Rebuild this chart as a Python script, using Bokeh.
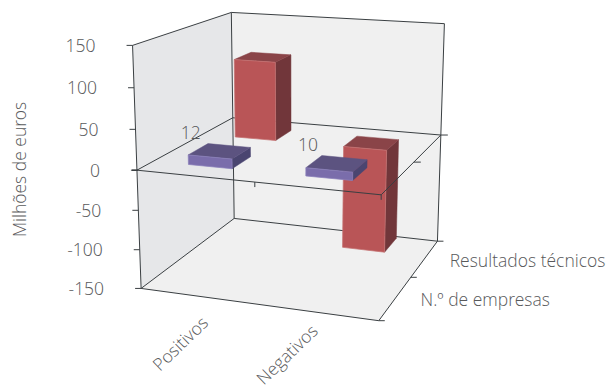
import numpy as np
from bokeh.core.properties import value
from bokeh.embed import file_html
from bokeh.plotting import figure
from bokeh.resources import INLINE

categories = ["Positivos", "Negativos"]
series_names = ["N.º de empresas", "Resultados técnicos"]
empresas = [12, 10]
resultados = [104, -137]
y_ticks = [-150, -100, -50, 0, 50, 100, 150]
y_title = "Milhões de euros"

# Camera calibration: known box corners (x, value, z) and where they land on the page.
Y_MIN, Y_MAX = -150, 150
calibration = [
    ((0, Y_MAX, 0), (133, 44)), ((0, Y_MIN, 0), (141, 288)),
    ((0, Y_MAX, 2), (230, 12)), ((0, Y_MIN, 2), (234, 218)),
    ((2, Y_MAX, 2), (444.5, 24)), ((2, Y_MIN, 2), (437, 240)),
    ((2, Y_MIN, 0), (378, 321)),
    ((0, 0, 0), (136, 170)), ((2, 0, 0), (380, 194)),
    ((2, 0, 2), (440.5, 134)), ((0, 0, 2), (232, 117.5)),
]
rows = []
rhs = []
for (X, Y, Z), (u, v) in calibration:
    rows.append([X, Y, Z, 1, 0, 0, 0, 0, -u * X, -u * Y, -u * Z])
    rhs.append(u)
    rows.append([0, 0, 0, 0, X, Y, Z, 1, -v * X, -v * Y, -v * Z])
    rhs.append(v)
# Columns are rescaled through the least squares for conditioning.
A = np.array(rows, float)
scale = np.abs(A).max(axis=0)
sol = np.linalg.lstsq(A / scale, np.array(rhs, float), rcond=None)[0] / scale
P = np.array([sol[:4], sol[4:8], [*sol[8:], 1.0]])


def proj(X, Y, Z):
    s = P @ np.array([X, Y, Z, 1.0])
    return s[0] / s[2], s[1] / s[2]


def poly(points):
    xy = [proj(*pt) for pt in points]
    return [a for a, _ in xy], [b for _, b in xy]


p = figure(width=609, height=392, x_range=(0, 609), y_range=(392, 0),
           x_axis_type=None, y_axis_type=None, toolbar_location=None,
           output_backend="svg", min_border=0, outline_line_color=None,
           background_fill_color="white", border_fill_color="white")

INK = "#3a3f42"
TEXT = "#58595b"
FONT = value("Open Sans Light")
FS = "17.5px"


def seg(a, b, width=1.0, color=INK):
    xs, ys = poly([a, b])
    p.line(xs, ys, line_color=color, line_width=width)


# Walls and floor of the box
p.patch(*poly([(0, Y_MIN, 0), (0, Y_MAX, 0), (0, Y_MAX, 2), (0, Y_MIN, 2)]),
        fill_color="#e6e7e9", line_color=None)
p.patch(*poly([(0, Y_MIN, 2), (0, Y_MAX, 2), (2, Y_MAX, 2), (2, Y_MIN, 2)]),
        fill_color="#f0f0f0", line_color=None)
p.patch(*poly([(0, Y_MIN, 0), (2, Y_MIN, 0), (2, Y_MIN, 2), (0, Y_MIN, 2)]),
        fill_color="#f0f0f0", line_color=None)

# Box frame behind the bars
for a, b in [((0, Y_MIN, 0), (0, Y_MAX, 0)), ((0, Y_MAX, 0), (0, Y_MAX, 2)),
             ((0, Y_MAX, 2), (2, Y_MAX, 2)), ((0, Y_MAX, 2), (0, Y_MIN, 2)),
             ((2, Y_MAX, 2), (2, Y_MIN, 2)), ((0, Y_MIN, 2), (2, Y_MIN, 2)),
             ((0, Y_MIN, 0), (0, Y_MIN, 2)), ((0, Y_MIN, 0), (2, Y_MIN, 0)),
             ((2, Y_MIN, 0), (2, Y_MIN, 2)), ((0, 0, 2), (2, 0, 2)),
             ((0, 0, 0), (0, 0, 2))]:
    seg(a, b)

# Axis ticks
for t in y_ticks:
    x0, y0 = proj(0, t, 0)
    p.line([x0 - 6, x0], [y0, y0], line_color=INK, line_width=1)
for Z in (0, 1, 2):
    x0, y0 = proj(2, Y_MIN, Z)
    p.line([x0, x0 + 6], [y0, y0], line_color=INK, line_width=1)

GAP_X, GAP_Z = 0.31, 0.30
# front, side, top, and the lighter rim round each face
RED = ("#b95557", "#71363a", "#8a4448", "#c57373")
BLUE = ("#7a6dab", "#4a4570", "#5c5380", "#8b80bb")


def bar(i, s, val, colors):
    x0, x1 = i + GAP_X, i + 1 - GAP_X
    z0, z1 = s + GAP_Z, s + 1 - GAP_Z
    lo, hi = min(0, val), max(0, val)
    front, side, top, rim = colors
    p.patch(*poly([(x1, lo, z0), (x1, lo, z1), (x1, hi, z1), (x1, hi, z0)]),
            fill_color=side, line_color=side, line_width=0.5)
    p.patch(*poly([(x0, hi, z0), (x1, hi, z0), (x1, hi, z1), (x0, hi, z1)]),
            fill_color=top, line_color=top, line_width=0.5)
    p.patch(*poly([(x0, lo, z0), (x1, lo, z0), (x1, hi, z0), (x0, hi, z0)]),
            fill_color=front, line_color=rim, line_width=0.75)


# Back row first, so that the front row covers it
for i, v in enumerate(resultados):
    bar(i, 1, v, RED)
for i, v in enumerate(empresas):
    bar(i, 0, v, BLUE)

# Zero plane edges run across the bars
seg((0, 0, 0), (2, 0, 0))
seg((2, 0, 0), (2, 0, 2))
for X in (1, 2):
    x0, y0 = proj(X, 0, 0)
    p.line([x0, x0], [y0, y0 + 5], line_color=INK, line_width=1)
for Z in (1, 2):
    x0, y0 = proj(2, 0, Z)
    p.line([x0, x0 + 7], [y0, y0], line_color=INK, line_width=1)
x0, y0 = proj(0, 0, 0)
p.line([x0 - 5, x0 + 1], [y0, y0], line_color=INK, line_width=1.5)


def label(x, y, txt, align="center", angle=0, baseline="middle", size=FS):
    p.text([x], [y], text=[txt], text_font=FONT, text_font_size=size,
           text_color=TEXT, text_align=align, text_baseline=baseline,
           angle=angle, angle_units="deg")


for t in y_ticks:
    x0, y0 = proj(0, t, 0)
    label(x0 - 37, y0, str(t), align="right")

label(18, 169, y_title, angle=90)

for i, v in enumerate(empresas):
    x0, y0 = proj(i + 0.5, v, 0.5)
    label(x0 - 29, y0 - 19, str(v))

category_dx = [7, -2]
category_dy = [23, 15]
for i, name in enumerate(categories):
    x0, y0 = proj(i + 0.5, Y_MIN, 0)
    label(x0 + category_dx[i], y0 + category_dy[i], name, align="right", angle=44)

for s, name in enumerate(series_names):
    x0, y0 = proj(2, Y_MIN, s + 0.5)
    label(x0 + 25, y0 + 1.5, name, align="left")

open("out.html", "w").write(file_html(p, INLINE))
